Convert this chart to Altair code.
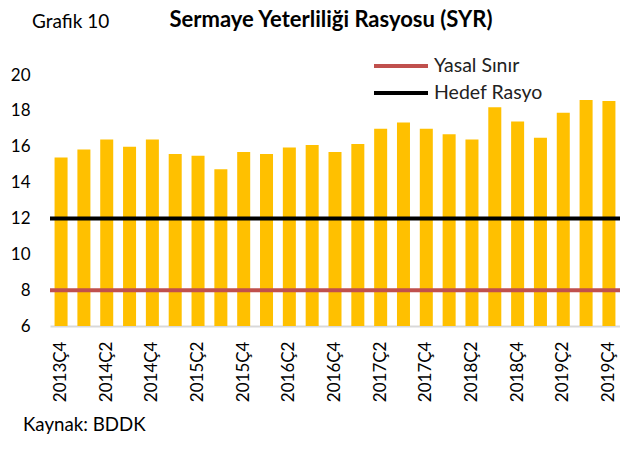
import altair as alt
import pandas as pd

categories = ["2013Ç4","2014Ç1","2014Ç2","2014Ç3","2014Ç4","2015Ç1","2015Ç2","2015Ç3",
              "2015Ç4","2016Ç1","2016Ç2","2016Ç3","2016Ç4","2017Ç1","2017Ç2","2017Ç3",
              "2017Ç4","2018Ç1","2018Ç2","2018Ç3","2018Ç4","2019Ç1","2019Ç2","2019Ç3","2019Ç4"]
syr = [15.4, 15.85, 16.4, 16.0, 16.4, 15.6, 15.5, 14.75, 15.7, 15.6, 15.95, 16.1, 15.7,
       16.15, 17.0, 17.35, 17.0, 16.7, 16.4, 18.2, 17.4, 16.5, 17.9, 18.6, 18.55]
shown_labels = categories[::2]
legal_name, legal_value, legal_color = "Yasal Sınır", 8, "#C0504D"
target_name, target_value, target_color = "Hedef Rasyo", 12, "#000000"
y_ticks = [6, 8, 10, 12, 14, 16, 18, 20]

FONT = "Lato"

bars_df = pd.DataFrame({"q": categories, "v": syr})

bars = alt.Chart(bars_df).mark_bar(color="#FFC000").encode(
    x=alt.X("q:N", sort=categories, title=None,
            scale=alt.Scale(paddingInner=0.43, paddingOuter=0.2),
            axis=alt.Axis(values=shown_labels, labelAngle=270, labelFontSize=17, labelFont=FONT,
                          labelColor="#000", labelPadding=15, ticks=False,
                          domainColor="#D9D9D9", domainWidth=2, labelOverlap=False)),
    y=alt.Y("v:Q", title=None, scale=alt.Scale(domain=[6, 20], zero=False, nice=False),
            axis=alt.Axis(values=y_ticks, domain=False, ticks=False, grid=False,
                          labelFontSize=17, labelFont=FONT, labelColor="#000",
                          labelPadding=20, labelOverlap=False)),
    y2=alt.datum(6),
)

legend_common = dict(orient="none", title=None, symbolType="stroke", symbolSize=2916,
                     symbolStrokeWidth=4, labelFont=FONT, labelFontSize=19.5,
                     labelColor="#222", labelOffset=4)

legal = alt.Chart(pd.DataFrame({"s": [legal_name], "y": [legal_value]})).mark_rule(strokeWidth=4).encode(
    y=alt.Y("y:Q", axis=None),
    color=alt.Color("s:N", scale=alt.Scale(domain=[legal_name], range=[legal_color]),
                    legend=alt.Legend(legendX=322, legendY=-38, **legend_common)),
)

target = alt.Chart(pd.DataFrame({"s": [target_name], "y": [target_value]})).mark_rule(strokeWidth=4).encode(
    y=alt.Y("y:Q", axis=None),
    stroke=alt.Stroke("s:N", scale=alt.Scale(domain=[target_name], range=[target_color]),
                      legend=alt.Legend(legendX=322, legendY=-11, **legend_common)),
)

grafik = alt.Chart(pd.DataFrame({"t": ["Grafik 10"]})).mark_text(
    align="left", baseline="alphabetic", font=FONT, fontSize=19, color="#000"
).encode(text="t:N", x=alt.value(-18), y=alt.value(-47))

title = alt.Chart(pd.DataFrame({"t": ["Sermaye Yeterliliği Rasyosu (SYR)"]})).mark_text(
    align="center", baseline="alphabetic", font=FONT, fontSize=22, fontWeight="bold", color="#000"
).encode(text="t:N", x=alt.value(281), y=alt.value(-48))

source = alt.Chart(pd.DataFrame({"t": ["Kaynak: BDDK"]})).mark_text(
    align="left", baseline="alphabetic", font=FONT, fontSize=18.7, color="#000"
).encode(text="t:N", x=alt.value(-27), y=alt.value(356))

chart = alt.layer(bars, legal, target, grafik, title, source).resolve_axis(
    y="independent"
).properties(
    width=570, height=251,
    padding={"left": 42, "top": 67, "right": 0, "bottom": 110},
    autosize=alt.AutoSizeParams(type="none"),
).configure_view(stroke=None).configure_axisY(labelOverlap=False)

chart.save("out.html", embed_options={"renderer": "svg", "actions": False})
